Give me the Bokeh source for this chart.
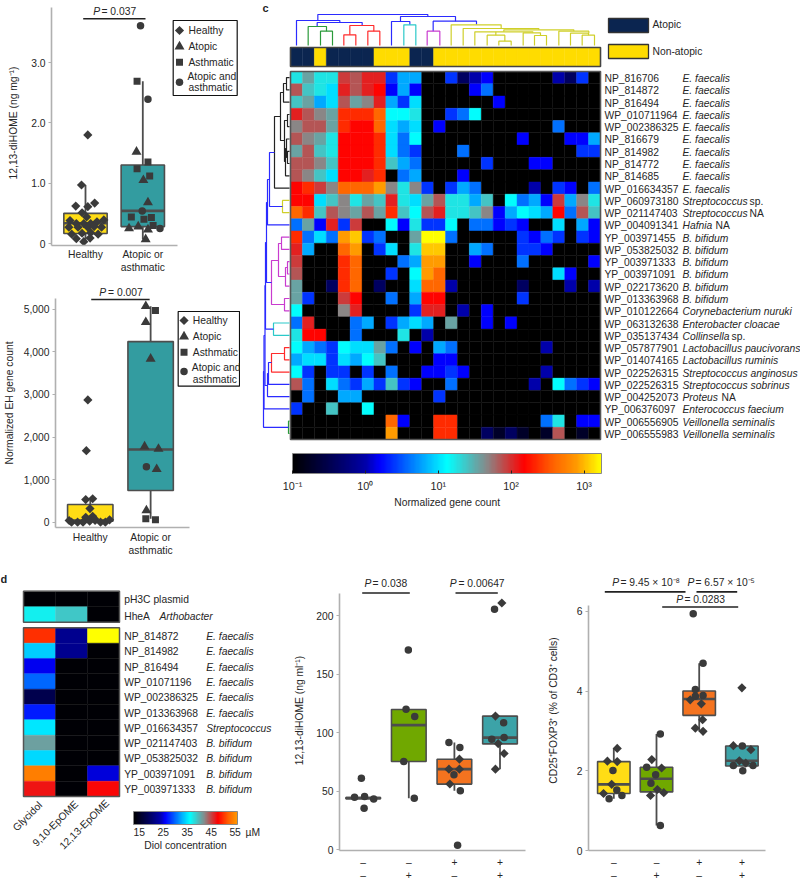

import numpy as np
from bokeh.embed import file_html
from bokeh.layouts import column, row
from bokeh.models import ColorBar, ColumnDataSource, FixedTicker, Label, LinearColorMapper, Range1d
from bokeh.plotting import figure
from bokeh.resources import INLINE
from bokeh.core.properties import value
from bokeh.transform import transform

FONT = "Liberation Sans"
FS = 10.3
TXT = "#262626"
MARK = "#3a3a3a"
EDGE = "#4d4d4d"
AXIS = "#b0b0b0"
YELLOW = "#ffdd15"
TEAL = "#339ca0"
TEAL2 = "#3ca3a8"
GREEN = "#70a800"
ORANGE = "#f4731f"

# ---------------- panel a
A_H_X = [.04,-.07,-.17,.04,.16,-.06,.02,-.27,-.16,-.03,.09,.2,.32,-.29,-.13,.04,.15,.28,-.24,-.06,.09,.22,-.16,.08,-.03]
A_H_Y = [1.80,.97,.62,.61,.67,.51,.44,.38,.33,.33,.33,.36,.39,.27,.27,.27,.28,.27,.155,.17,.18,.155,.08,.09,.03]
A_CIR_X = [.96,1.09,.99,1.30]
A_CIR_Y = [3.61,2.39,.54,.25]
A_SQ_X = [.90,1.09,.90,1.12,.80,1.15,1.02,1.18]
A_SQ_Y = [2.69,1.35,1.24,1.12,.44,.43,.40,.30]
A_TRI_X = [.89,1.01,1.09,.76,.92,1.09,1.05]
A_TRI_Y = [1.52,1.05,.68,.25,.28,.23,.07]
A_Q1 = [.165,.28]
A_MED = [.335,.54]
A_Q3 = [.50,1.30]
A_LO = [.03,.07]
A_HI = [.97,2.69]

# ---------------- panel b
B_H_X = [-.04,-.065,-.075,.04,-.005,-.075,.04,-.35,-.31,-.21,-.12,-.01,.08,.17,.25,.32,.07]
B_H_Y = [2870,1680,530,550,320,115,140,40,0,0,0,25,40,0,0,55,80]
B_TRI_X = [.92,.92,1.0,.90,1.13,1.10,.93]
B_TRI_Y = [5070,4695,3835,1775,1720,1245,275]
B_SQ_X = [1.08,.92,1.08]
B_SQ_Y = [4970,80,55]
B_CIR_X = [.93]
B_CIR_Y = [1300]
B_Q1 = [25,745]
B_MED = [40,1705]
B_Q3 = [415,4240]
B_LO = [25,80]
B_HI = [530,5070]

# ---------------- panel c
HEAT_LEVELS = {'.':-1,'v':-.75,'n':-.4,'d':0,'b':.2,'B':.38,'a':.6,'A':.8,'c':1.0,'C':1.12,'t':1.25,'T':1.4,
               'g':1.55,'G':1.67,'m':1.85,'M':1.95,'r':2.05,'R':2.18,'F':2.35,'o':2.6,'O':2.9,'y':3.05,'Y':3.24}
HEAT_ROWS = [
"tgttMmrrBAA..Bndb.....dnB.",
"mTtcrmrRbAb....ba.........",
"TgAcmgGrABc......b........",
"rmGgFFFoCCt..BaC..........",
"GmmgFRRocAc.b.........a...",
"mGgtRRRFcaC........b...bbA",
"gmTtRRRFcaB...a.........BB",
"mmGTRRRFTAa.....B...bb....",
"mGTcRRrF.aA...b...........",
"RFMGoooOGtGB.BAa....d.Bb.a",
"RRcTGtgTrtcgmttAT.CaAbMAGt",
"oFTmGgmgFTCmrttTGbACcARamT",
"agbrBM..CbtBBC.aabBb..c.Ab",
"FacaOyBa..gYYa.....BbaB.Bb",
"rA..oO.Bc.tyy..Aa..BBb....",
"M...Fo...aAOO..b...a.....b",
"m...Fo..B.COo.........cb..",
"g..nFo.n..cood.....n...d.d",
"gB..MR..a.ARR......B......",
"C...Gr....Brr.d.b.........",
"ar...aA.BAcA.g..b.b.......",
"tRR..a...t.d..............",
"CAaBCccga.b.Aa.......d....",
"AccBcACT....bb............",
"CB.BB.B.a..bbBb......d....",
"ma.caBABTBb..a......d.CaBb",
".a..AA......B.............",
"B..T..C...................",
"........ob..FF.......at.bb",
"........O...FF..nvnv.vm.v.",
]
HEAT_IDS = ["NP_816706","NP_814872","NP_816494","WP_010711964","WP_002386325","NP_816679","NP_814982","NP_814772",
            "NP_814685","WP_016634357","WP_060973180","WP_021147403","WP_004091341","YP_003971455","WP_053825032",
            "YP_003971333","YP_003971091","WP_022173620","WP_013363968","WP_010122664","WP_063132638","WP_035137434",
            "WP_057877901","WP_014074165","WP_022526315","WP_022526315","WP_004252073","YP_006376097","WP_006556905",
            "WP_006555983"]
HEAT_SPECIES = ["E. faecalis"]*10 + ["Streptococcus","Streptococcus","Hafnia"] + ["B. bifidum"]*6 + [
    "Corynebacterium nuruki","Enterobacter cloacae","Collinsella","Lactobacillus paucivorans","Lactobacillus ruminis",
    "Streptococcus anginosus","Streptococcus sobrinus","Proteus","Enterococcus faecium","Veillonella seminalis",
    "Veillonella seminalis"]
SPECIES_SUFFIX = {10:("sp.",749),11:("NA",749),12:("NA",715),21:("sp.",731),26:("NA",721)}
ATOPY = "AANAAAANNNAANNNNNNNNNNNNNN"

BL,GR,RD,CY,MG,YL,BK = "#2b2bff","#2a9a3a","#ff2b2b","#2bc9c9","#c93ccf","#cfcf2a","#222222"
# horizontal bar height, left x, left end, right x, right end, colour (3x reference pixels)
TOP_LINKS = [
(42,232,60,562,48,BL),(60,168,135,298,66,BL),(66,230,78,365,75,BL),(78,203,135,258,92,GR),(92,240,135,276,135,GR),
(75,328,103,400,92,RD),(103,310,135,346,135,RD),(92,382,135,418,135,RD),(48,480,63,645,62,BL),(63,453,135,508,73,BL),
(73,490,135,526,135,CY),(62,578,92,708,72,BL),(92,560,135,598,135,MG),(73,632,135,782,84,YL),(84,668,135,895,88,YL),
(88,790,94,1000,92,YL),(94,703,135,877,97,YL),(97,848,135,900,105,YL),(105,882,135,918,135,YL),(94,766,104,766,104,YL),
(104,740,135,793,122,YL),(122,775,135,812,135,YL),(92,955,135,1045,98,YL),(98,990,135,1044,104,YL),(104,1025,135,1062,135,YL),
]
# vertical bar x, top y, top end x, bottom y, bottom end x, colour (reference pixels)
LEFT_LINKS = [
(286,77.1,289,89.4,289,BK),(283,83,286,101.7,289,BK),(287,114,289,126.2,289,BK),(287,150.8,289,163,289,BK),
(286,138.5,289,157,287,BK),(285,148,286,175.3,289,BK),(284,120,287,161,285,BK),(280,92,283,140,284,BK),
(274,116,280,187.6,289,BK),(282,199.9,289,212.1,289,YL),(269,152,274,206,282,BL),(267,179,269,224.4,289,BL),
(281,236.6,289,248.9,289,MG),(287,261.2,289,273.5,289,MG),(285,267,287,285.7,289,MG),(278,243,281,276,285,MG),
(284,298,289,310.3,289,MG),(271,260,278,304,284,MG),(266,202,267,282,271,BL),(273,322.5,289,334.8,289,CY),
(265,242,266,328.6,273,BL),(284,347.1,289,359.3,289,RD),(271,353,284,371.6,289,RD),(268,362,271,383.9,289,BL),
(267,373,268,396.1,289,BL),(264.5,285,265,385,267,BL),(263.5,335,264.5,408.4,289,BL),(288,420.7,289,433,289,GR),
(263,371,263.5,426.8,288,BL),
]
C_TICK_VALUES = [-1,0,1,2,3]
C_TICK_LABELS = ["10\u207b\u00b9","10\u2070","10\u00b9","10\u00b2","10\u00b3"]

# ---------------- panel d
D_TOP_LABELS = ["pH3C plasmid","HheA"]
D_TOP_VALUES = [[13,13,13],[37,39,13]]
D_IDS = ["NP_814872","NP_814982","NP_816494","WP_01071196","WP_002386325","WP_013363968","WP_016634357",
         "WP_021147403","WP_053825032","YP_003971091","YP_003971333"]
D_SPECIES = ["E. faecalis"]*6 + ["Streptococcus"] + ["B. bifidum"]*4
D_VALUES = [[50,22,59.6],[34,22,13],[25.5,13,13],[30,13,13],[18,13,13],[27,13,13],[35,13,13],[41,13,13],[34.5,13,13],[54,13,25],[47,13,47.5]]
D_SUBSTRATES = ["Glycidol","9,10-EpOME","12,13-EpOME"]
D_TICKS = [15,25,35,45,55]

# ---------------- panel e
E_CIR_X = [-.04,-.19,.03,.23,.02, .99,.94,1.13,.89,1.12, 1.88,2.12,1.99,2.13,2.07, 2.88,3.08,2.82,3.09]
E_CIR_Y = [60.9,44.8,45.3,43.3,35.4, 170.8,120,113.9,75.4,43.9, 91.5,87.3,64,50.4,3.7, 205.7,108.5,94.3,95.8]
E_DIA_X = [2.11,1.88,2.11,1.9, 3.04,2.9,2.96,3.09,2.9]
E_DIA_Y = [77.3,68.8,68.8,56.1, 211,114.2,90.7,82.2,68.8]
E_Q1 = [43.5,75.4,56,90.4]
E_MED = [44,106.5,68.8,95.8]
E_Q3 = [44.5,119.8,77.3,114.2]
E_LO = [43.5,43.9,50.4,68.8]
E_HI = [44.5,119.8,91.5,114.2]

# ---------------- panel f
F_CIR_X = [-.02,.07,.19,-.11, .77,.98,.87,1.09,1.09, 1.86,2.09,1.91,1.91,2.09, 3.01,2.8,3.02,3.26]
F_CIR_Y = [2.01,1.52,1.38,1.30, 2.09,1.90,1.69,2.92,.63, 5.94,4.70,4.04,3.87,3.89, 2.62,2.13,2.0,2.13]
F_DIA_X = [.08,-.15,.08,-.05,-.24, .89,1.12,1.02,1.17,.86, 1.79,2.05,2.08,1.91,2.09, 3.0,2.8,3.21,2.94,3.09]
F_DIA_Y = [2.56,2.24,2.23,1.66,1.43, 2.28,2.07,1.53,1.45,1.38, 3.78,3.68,3.28,3.07,2.99, 4.08,2.63,2.53,2.25,2.19]
F_Q1 = [1.43,1.47,3.39,2.12]
F_MED = [1.66,1.80,3.80,2.25]
F_Q3 = [2.23,2.09,4.0,2.62]
F_LO = [1.30,.63,2.99,2.12]
F_HI = [2.56,2.92,4.70,2.62]

CRA_3EH = ["\u2013\n\u2013","\u2013\n+","+\n\u2013","+\n+"]


def build_palette():
    nodes = [(-1,(0,0,0)),(-.4,(0,0,96)),(0,(0,0,170)),(.2,(0,0,255)),(.8,(0,170,255)),(1.12,(0,255,255)),
             (1.67,(136,136,136)),(2.18,(255,0,0)),(2.6,(255,102,0)),(2.9,(255,153,0)),(3.24,(255,255,0))]
    pos = [n[0] for n in nodes]
    out = []
    for v in np.linspace(-1,3.24,256):
        c = [int(round(np.interp(v,pos,[n[1][i] for n in nodes]))) for i in range(3)]
        out.append("#%02x%02x%02x" % tuple(c))
    return out
PALETTE = build_palette()


def panel(x0,y0,w,h,fl,fr,ft,fb,xa,ya,axes=True):
    mx = lambda px: xa[1]+(px-xa[0])*(xa[3]-xa[1])/(xa[2]-xa[0])
    my = lambda py: ya[1]+(py-ya[0])*(ya[3]-ya[1])/(ya[2]-ya[0])
    p = figure(width=w,height=h,x_range=Range1d(mx(fl),mx(fr)),y_range=Range1d(my(fb),my(ft)),
               toolbar_location=None,output_backend="svg",min_border_left=fl-x0,min_border_right=x0+w-fr,
               min_border_top=ft-y0,min_border_bottom=y0+h-fb,outline_line_color=None,frame_align=False)
    p.grid.visible = False
    p.border_fill_color = None
    p.background_fill_color = None
    if not axes:
        p.axis.visible = False
    return p,mx,my


def style_axes(p,xticks,xlabels,yticks,ylabels,xbound,ybound,ytitle,title_standoff=6,x_standoff=4):
    xa = p.xaxis[0]; ya = p.yaxis[0]
    xa.ticker = FixedTicker(ticks=xticks)
    xa.major_label_overrides = dict(zip(xticks,xlabels))
    ya.ticker = FixedTicker(ticks=yticks)
    ya.major_label_overrides = dict(zip(yticks,ylabels))
    xa.bounds = xbound; ya.bounds = ybound
    ya.axis_label = ytitle
    ya.axis_label_text_font = FONT; ya.axis_label_text_font_size = f"{FS}px"
    ya.axis_label_text_font_style = "normal"; ya.axis_label_text_color = TXT
    ya.axis_label_standoff = title_standoff
    for ax in (xa,ya):
        ax.axis_line_color = AXIS; ax.axis_line_width = 1.6
        ax.major_tick_line_color = AXIS; ax.major_tick_line_width = 1.2
        ax.major_tick_in = 0; ax.major_tick_out = 3
        ax.minor_tick_line_color = None
        ax.major_label_text_font = FONT; ax.major_label_text_font_size = f"{FS}px"
        ax.major_label_text_color = TXT
        ax.major_label_standoff = 3
    xa.major_tick_line_color = None
    xa.major_tick_out = 0
    xa.major_label_standoff = x_standoff


def T(p,X,Y,px,py,s,size=FS,style="normal",align="left",base="middle",angle=0):
    p.add_layout(Label(x=X(px),y=Y(py),text=s,text_font=FONT,text_font_size=f"{size}px",text_font_style=style,
                       text_align=align,text_baseline=base,text_color=TXT,angle=angle))


def pval(p,X,Y,px,px2,py,rest):
    T(p,X,Y,px,py,"P",style="italic")
    T(p,X,Y,px2,py,rest)


def hline(p,X,Y,x1,x2,y):
    p.line([X(x1),X(x2)],[Y(y),Y(y)],line_color="#222222",line_width=1.6)


def boxes(p,q1,med,q3,lo,hi,colors,hw):
    xs = list(range(len(q1)))
    p.segment(xs,lo,xs,hi,line_color=EDGE,line_width=1.8)
    p.quad(left=[x-hw for x in xs],right=[x+hw for x in xs],bottom=q1,top=q3,fill_color=colors,line_color=EDGE,line_width=1.6)
    p.segment([x-hw for x in xs],med,[x+hw for x in xs],med,line_color=EDGE,line_width=2.6)


SZ = {"diamond":6.5,"triangle":10,"square":7,"circle":7.5}


def marks(p,x,y,marker,size):
    if marker == "diamond":
        p.scatter(x,y,marker="square",angle=np.pi/4,size=size,fill_color=MARK,line_color=MARK,line_width=0)
    else:
        p.scatter(x,y,marker=marker,size=size,fill_color=MARK,line_color=MARK,line_width=0)


def legend(p,X,Y,box,mx,tx,ys):
    p.quad(left=[X(box[0])],right=[X(box[1])],top=[Y(box[2])],bottom=[Y(box[3])],fill_color="white",line_color="#111111",line_width=1.2)
    for name,m,my,ty in zip(["Healthy","Atopic","Asthmatic"],["diamond","triangle","square"],ys[:3],ys[:3]):
        marks(p,[X(mx)],[Y(my)],m,SZ[m])
        T(p,X,Y,tx,ty,name)
    marks(p,[X(mx)],[Y(ys[3])],"circle",SZ["circle"])
    T(p,X,Y,tx-1,ys[4],"Atopic and")
    T(p,X,Y,tx,ys[5],"asthmatic")


# ---- a
pa,Xa,Ya = panel(0,0,240,278,51,240,0,245,(85,0,142.3,1),(243,0,62,3))
style_axes(pa,[0,1],["Healthy","Atopic or\nasthmatic"],[0,1,2,3],["0","1.0","2.0","3.0"],(Xa(51),Xa(177)),(Ya(245),Ya(7)),"12,13-diHOME (ng mg\u207b\u00b9)",title_standoff=9,x_standoff=3)
boxes(pa,A_Q1,A_MED,A_Q3,A_LO,A_HI,[YELLOW,TEAL],.378)
marks(pa,A_H_X,A_H_Y,"diamond",SZ["diamond"])
marks(pa,A_CIR_X,A_CIR_Y,"circle",SZ["circle"])
marks(pa,A_SQ_X,A_SQ_Y,"square",SZ["square"])
marks(pa,A_TRI_X,A_TRI_Y,"triangle",SZ["triangle"])
hline(pa,Xa,Ya,82.7,145,18.3)
pval(pa,Xa,Ya,92.7,101,11,"= 0.037")
legend(pa,Xa,Ya,(172.7,236.7,20,95),179,188,[30,46,61.7,81.7,76,87])
T(pa,Xa,Ya,0,7,"a",size=11,style="bold")

# ---- b
pb,Xb,Yb = panel(0,278,240,292,50,240,278,527,(85.7,0,147.7,1),(521.7,0,308.7,5000))
style_axes(pb,[0,1],["Healthy","Atopic or\nasthmatic"],[0,1000,2000,3000,4000,5000],["0","1,000","2,000","3,000","4,000","5,000"],(Xb(50),Xb(188)),(Yb(527),Yb(298)),"Normalized EH gene count",title_standoff=6)
boxes(pb,B_Q1,B_MED,B_Q3,B_LO,B_HI,[YELLOW,TEAL],.376)
marks(pb,B_H_X,B_H_Y,"diamond",SZ["diamond"])
marks(pb,B_TRI_X,B_TRI_Y,"triangle",SZ["triangle"])
marks(pb,B_SQ_X,B_SQ_Y,"square",SZ["square"])
marks(pb,B_CIR_X,B_CIR_Y,"circle",SZ["circle"])
hline(pb,Xb,Yb,86.7,146.7,299)
pval(pb,Xb,Yb,95,104,292,"= 0.007")
legend(pb,Xb,Yb,(176,239,311,385.7),182,191,[320,336,351.7,371,366.7,379])
T(pb,Xb,Yb,0,295,"b",size=11,style="bold")

# ---- c
pc,Xc,Yc = panel(240,0,560,570,240,800,0,570,(290,0,600,26),(71,0,439,30),axes=False)
mapper = LinearColorMapper(palette=PALETTE,low=-1,high=3.24)
cx,cy,cv = [],[],[]
for r,line in enumerate(HEAT_ROWS):
    for c,ch in enumerate(line):
        cx.append(c+.5); cy.append(r+.5); cv.append(HEAT_LEVELS[ch])
src = ColumnDataSource(dict(x=cx,y=cy,v=cv))
pc.rect("x","y",1,1,source=src,fill_color=transform("v",mapper),line_color=transform("v",mapper),line_width=.4)
pc.quad(left=[0],right=[26],top=[0],bottom=[30],fill_color=None,line_color="#555555",line_width=1.6)
# annotation strip
acol = ["#0b2550" if k=="A" else "#ffdc00" for k in ATOPY]
pc.quad(left=list(range(26)),right=list(range(1,27)),top=[Yc(47)]*26,bottom=[Yc(66)]*26,fill_color=acol,line_color=acol,line_width=.4)
pc.quad(left=[0],right=[26],top=[Yc(47)],bottom=[Yc(66)],fill_color=None,line_color="#444444",line_width=1.6)
# dendrograms
xs,ys,cl = [],[],[]
for t,a1,b1,a2,b2,col in TOP_LINKS:
    xs.append([Xc(240+a1/3),Xc(240+a1/3),Xc(240+a2/3),Xc(240+a2/3)])
    ys.append([Yc(b1/3),Yc(t/3),Yc(t/3),Yc(b2/3)])
    cl.append(col)
for t,a1,b1,a2,b2,col in LEFT_LINKS:
    xs.append([Xc(b1),Xc(t),Xc(t),Xc(b2)])
    ys.append([Yc(a1),Yc(a1),Yc(a2),Yc(a2)])
    cl.append(col)
pc.multi_line(xs,ys,line_color=cl,line_width=1.2)
# row labels
lab = ColumnDataSource(dict(y=[Yc(71+12.27*(k+.5)+1) for k in range(30)],i=HEAT_IDS,s=HEAT_SPECIES,x1=[Xc(604)]*30,x2=[Xc(682)]*30))
pc.text("x1","y",text="i",source=lab,text_font=value(FONT),text_font_size=f"{FS}px",text_baseline="middle",text_color=TXT)
pc.text("x2","y",text="s",source=lab,text_font=value(FONT),text_font_size=f"{FS}px",text_font_style="italic",text_baseline="middle",text_color=TXT)
for k,(s,x) in SPECIES_SUFFIX.items():
    T(pc,Xc,Yc,x,71+12.27*(k+.5)+1,s)
# legend
for y1,y2,col,name,ty in [(18,32,"#0b2550","Atopic",24),(44,58,"#ffdc00","Non-atopic",51)]:
    pc.quad(left=[Xc(608)],right=[Xc(648)],top=[Yc(y1)],bottom=[Yc(y2)],fill_color=col,line_color="#333333",line_width=1.3)
    T(pc,Xc,Yc,652,ty,name)
cb = ColorBar(color_mapper=mapper,ticker=FixedTicker(ticks=C_TICK_VALUES),major_label_overrides=dict(zip(C_TICK_VALUES,C_TICK_LABELS)),
              orientation="horizontal",location=(52,76),width=309,height=20,padding=0,major_tick_in=3,major_tick_line_color="#222222",
              bar_line_color="#888888",border_line_color=None,background_fill_color=None,label_standoff=6,minor_tick_line_color=None,
              major_label_text_font=FONT,major_label_text_font_size=f"{FS+.5}px",major_label_text_color=TXT)
pc.add_layout(cb)
T(pc,Xc,Yc,446.7,502,"Normalized gene count",align="center")
T(pc,Xc,Yc,262,7,"c",size=11,style="bold")

# ---- d
pd_,Xd,Yd = panel(0,570,290,313,0,290,570,883,(23,0,119,3),(627.3,0,796,11),axes=False)
dm = LinearColorMapper(palette=PALETTE,low=12.6,high=59.6)
tx,ty,tv = [],[],[]
for r,vals in enumerate(D_VALUES):
    for c,v in enumerate(vals):
        tx.append(c+.5); ty.append(r+.5); tv.append(v)
dsrc = ColumnDataSource(dict(x=tx,y=ty,v=tv))
pd_.rect("x","y",1,1,source=dsrc,fill_color=transform("v",dm),line_color=transform("v",dm),line_width=.4)
pd_.quad(left=[0],right=[3],top=[0],bottom=[11],fill_color=None,line_color="#555555",line_width=1.5)
rh = Yd(606.2)-Yd(590.7)
t2x,t2y,t2v = [],[],[]
for r,vals in enumerate(D_TOP_VALUES):
    for c,v in enumerate(vals):
        t2x.append(c+.5); t2y.append(Yd(590.7)+rh*(r+.5)); t2v.append(v)
dsrc2 = ColumnDataSource(dict(x=t2x,y=t2y,v=t2v))
pd_.rect("x","y",1,rh,source=dsrc2,fill_color=transform("v",dm),line_color=transform("v",dm),line_width=.4)
pd_.quad(left=[0],right=[3],top=[Yd(590.7)],bottom=[Yd(621.7)],fill_color=None,line_color="#555555",line_width=1.5)
T(pd_,Xd,Yd,123.7,599,D_TOP_LABELS[0])
T(pd_,Xd,Yd,123.7,615.7,D_TOP_LABELS[1])
T(pd_,Xd,Yd,159,615.7,"Arthobacter",style="italic")
dl = ColumnDataSource(dict(y=[Yd(636)+k*(Yd(651.3)-Yd(636)) for k in range(11)],i=D_IDS,s=D_SPECIES,x1=[Xd(123.7)]*11,x2=[Xd(205.7)]*11))
pd_.text("x1","y",text="i",source=dl,text_font=value(FONT),text_font_size=f"{FS}px",text_baseline="middle",text_color=TXT)
pd_.text("x2","y",text="s",source=dl,text_font=value(FONT),text_font_size=f"{FS}px",text_font_style="italic",text_baseline="middle",text_color=TXT)
for name,ex,ey in zip(D_SUBSTRATES,[36,72,103],[799,798,797]):
    T(pd_,Xd,Yd,ex,ey,name,align="right",base="top",angle=np.pi/4)
cut = int(256*(56-12.6)/47)
dm2 = LinearColorMapper(palette=PALETTE[:cut],low=12.6,high=56)
cb2 = ColorBar(color_mapper=dm2,ticker=FixedTicker(ticks=D_TICKS),major_label_overrides={t:str(t) for t in D_TICKS},
               orientation="horizontal",location=(133,45),width=104,height=13,padding=0,major_tick_line_color=None,
               bar_line_color="#888888",border_line_color=None,background_fill_color=None,label_standoff=3,minor_tick_line_color=None,
               major_label_text_font=FONT,major_label_text_font_size=f"{FS}px",major_label_text_color=TXT)
pd_.add_layout(cb2)
T(pd_,Xd,Yd,245,831.7,"\u00b5M")
T(pd_,Xd,Yd,185,845,"Diol concentration",align="center")
T(pd_,Xd,Yd,0,578,"d",size=11,style="bold")

# ---- e
pe,Xe,Ye = panel(290,570,250,313,339,540,570,852,(362.7,0,408.3,1),(851,0,615.7,200))
style_axes(pe,[0,1,2,3],CRA_3EH,[0,50,100,150,200],["0","50","100","150","200"],(Xe(339),Xe(525)),(Ye(852),Ye(592.7)),"12,13-diHOME (ng ml\u207b\u00b9)",title_standoff=8,x_standoff=6)
boxes(pe,E_Q1,E_MED,E_Q3,E_LO,E_HI,[EDGE,GREEN,ORANGE,TEAL2],.38)
marks(pe,E_CIR_X,E_CIR_Y,"circle",SZ["circle"])
marks(pe,E_DIA_X,E_DIA_Y,"diamond",SZ["diamond"])
hline(pe,Xe,Ye,361.7,409.3,592.7)
hline(pe,Xe,Ye,455,497.3,592.7)
pval(pe,Xe,Ye,364,372,583,"= 0.038")
pval(pe,Xe,Ye,449.3,458,583,"= 0.00647")
T(pe,Xe,Ye,304,864,"CRA")
T(pe,Xe,Ye,304,876.7,"3EH + LA")
T(pe,Xe,Ye,294,578,"e",size=11,style="bold")

# ---- f
pf,Xf,Yf = panel(540,570,260,313,588,800,570,854,(613.3,0,656,1),(854.3,0,611.7,6))
Yf2 = lambda py: (854-py)/40.43
pf.y_range.start = 0
pf.y_range.end = Yf2(570)
style_axes(pf,[0,1,2,3],CRA_3EH,[0,2,4,6],["0","2","4","6"],(Xf(588),Xf(765)),(0,Yf2(605)),"CD25\u207aFOXP3\u207a (% of CD3\u207a cells)",title_standoff=15,x_standoff=6)
boxes(pf,F_Q1,F_MED,F_Q3,F_LO,F_HI,[YELLOW,GREEN,ORANGE,TEAL2],.38)
marks(pf,F_CIR_X,F_CIR_Y,"circle",SZ["circle"])
marks(pf,F_DIA_X,F_DIA_Y,"diamond",SZ["diamond"])
hline(pf,Xf,Yf2,604.3,685,591.7)
hline(pf,Xf,Yf2,696,736.7,591.7)
hline(pf,Xf,Yf2,661.7,737.7,607)
pval(pf,Xf,Yf2,611.7,620,581.7,"= 9.45 \u00d7 10\u207b\u2078")
pval(pf,Xf,Yf2,687,695,581.7,"= 6.57 \u00d7 10\u207b\u2075")
pval(pf,Xf,Yf2,675.7,684,599.3,"= 0.0283")
T(pf,Xf,Yf2,546.7,867,"CRA")
T(pf,Xf,Yf2,546.7,880,"3EH + LA")
T(pf,Xf,Yf2,555,578,"f",size=11,style="bold")

layout = column(row(column(pa,pb,spacing=0),pc,spacing=0),row(pd_,pe,pf,spacing=0),spacing=0,margin=(0,0,0,0))
html = file_html(layout,INLINE)
open("out.html","w").write(html)
